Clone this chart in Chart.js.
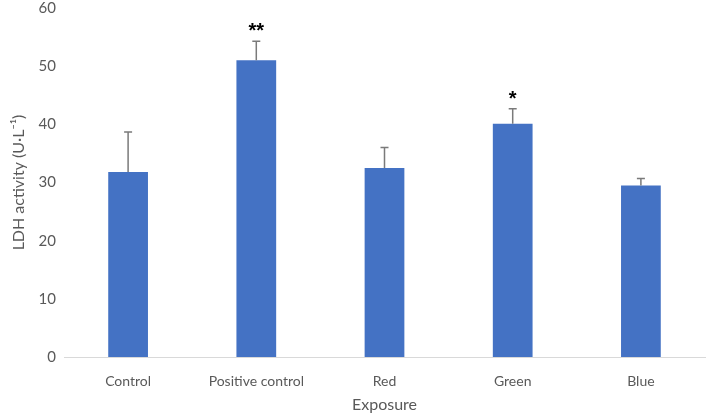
<!DOCTYPE html>
<html>
<head>
<meta charset="utf-8">
<script src="https://cdn.jsdelivr.net/npm/chart.js@4"></script>
<style>
  html, body { margin: 0; padding: 0; background: #fff; }
  #wrap { width: 709px; height: 418px; }
</style>
</head>
<body>
<div id="wrap"><canvas id="ldhChart"></canvas></div>
<script>
// Data
const categories = ['Control', 'Positive control', 'Red', 'Green', 'Blue'];
const ldhValues = [31.8, 51.0, 32.5, 40.1, 29.5];
const ldhErrors = [6.9, 3.3, 3.5, 2.6, 1.2];
const significance = ['', '**', '', '*', ''];
const yTicks = [0, 10, 20, 30, 40, 50, 60];

const FONT = 'Lato, sans-serif';

// Draws upward error bars and significance stars over each bar
const errorBarPlugin = {
    id: 'errorBars',
    afterDatasetsDraw(chart) {
        const ctx = chart.ctx;
        const meta = chart.getDatasetMeta(0);
        const yScale = chart.scales.y;
        ctx.save();
        meta.data.forEach(function(bar, i) {
            const x = bar.x;
            const yTop = yScale.getPixelForValue(ldhValues[i] + ldhErrors[i]);
            const yBase = bar.y;
            ctx.strokeStyle = '#7a7a7a';
            ctx.lineWidth = 1.5;
            ctx.beginPath();
            ctx.moveTo(x, yBase);
            ctx.lineTo(x, yTop);
            ctx.moveTo(x - 4, yTop);
            ctx.lineTo(x + 4, yTop);
            ctx.stroke();
            if (significance[i]) {
                ctx.fillStyle = '#000';
                ctx.font = 'bold 20px "Liberation Sans", sans-serif';
                ctx.textAlign = 'center';
                ctx.textBaseline = 'alphabetic';
                ctx.fillText(significance[i], x, yTop - 4);
            }
        });
        ctx.restore();
    }
};

new Chart(document.getElementById('ldhChart'), {
    type: 'bar',
    data: {
        labels: categories,
        datasets: [{
            data: ldhValues,
            backgroundColor: '#4472c4',
            borderWidth: 0,
            barPercentage: 0.62,
            categoryPercentage: 0.5
        }]
    },
    options: {
        responsive: true,
        maintainAspectRatio: false,
        animation: false,
        layout: { padding: { top: 8, right: 4, bottom: 4, left: 6 } },
        plugins: {
            legend: { display: false },
            tooltip: { enabled: false }
        },
        scales: {
            x: {
                grid: { display: false, drawTicks: false },
                border: { display: true, color: '#d9d9d9', width: 1 },
                ticks: { color: '#595959', font: { family: FONT, size: 14 }, padding: 16 },
                title: {
                    display: true,
                    text: 'Exposure',
                    color: '#595959',
                    font: { family: FONT, size: 16 },
                    padding: { top: -11, bottom: 0 }
                }
            },
            y: {
                min: 0,
                max: 60,
                afterBuildTicks: function(axis) {
                    axis.ticks = yTicks.map(function(v) { return { value: v }; });
                },
                afterFit: function(axis) {
                    axis.width = 58;
                    axis.paddingTop = 0;
                    axis.paddingBottom = 0;
                },
                grid: { display: false, drawTicks: false },
                border: { display: false },
                ticks: { color: '#595959', font: { family: FONT, size: 15 }, padding: 8 },
                title: {
                    display: true,
                    text: 'LDH activity (U·L⁻¹)',
                    color: '#595959',
                    font: { family: FONT, size: 16 },
                    padding: { top: 3, bottom: 4 }
                }
            }
        }
    },
    plugins: [errorBarPlugin]
});
</script>
</body>
</html>
